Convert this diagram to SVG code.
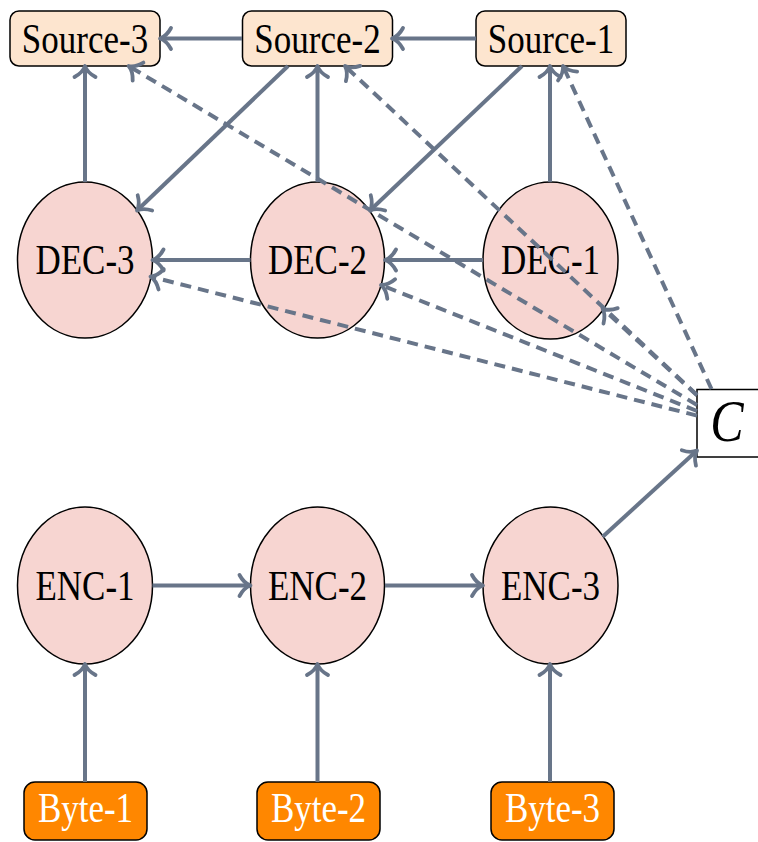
<svg xmlns="http://www.w3.org/2000/svg" width="758" height="842" viewBox="0 0 758 842">
  <defs>
    <marker id="arrow" markerUnits="userSpaceOnUse" markerWidth="24" markerHeight="24" refX="0" refY="0" viewBox="-14 -12 16 24" orient="auto" overflow="visible">
      <path d="M -11,-10.5 C -7.5,-4 -3,-1 0,0 C -3,1 -7.5,4 -11,10.5" fill="none" stroke="#687589" stroke-width="3.8" stroke-linecap="round" stroke-linejoin="round" stroke-dasharray="none"/>
    </marker>
    <style>
      .edge { fill: none; stroke: #687589; stroke-width: 4; marker-end: url(#arrow); }
      .dash { stroke-dasharray: 11 7; }
      .src { fill: #fde5cf; stroke: #000; stroke-width: 1.5; }
      .blob { fill: #f7d5d1; stroke: #000; stroke-width: 1.5; }
      .byte { fill: #ff8700; stroke: #000; stroke-width: 1.5; }
      .ctx { fill: #fff; stroke: #000; stroke-width: 1.5; }
      .lbl { font-family: "Liberation Serif", "DejaVu Serif", serif; font-size: 35px; text-anchor: middle; fill: #000; }
      .lbl.w { fill: #fff; }
      .lbl.c { font-size: 50px; font-style: italic; }
    </style>
  </defs>

  <!-- sources -->
  <g id="source-3">
    <rect class="src" x="10" y="11" width="150" height="55" rx="9"/>
    <text class="lbl" transform="translate(85,52.5) scale(1,1.2)">Source-3</text>
  </g>
  <g id="source-2">
    <rect class="src" x="242.5" y="11" width="150" height="55" rx="9"/>
    <text class="lbl" transform="translate(317.5,52.5) scale(1,1.2)">Source-2</text>
  </g>
  <g id="source-1">
    <rect class="src" x="476" y="11" width="150" height="55" rx="9"/>
    <text class="lbl" transform="translate(551,52.5) scale(1,1.2)">Source-1</text>
  </g>

  <!-- decoders -->
  <g id="dec-3">
    <ellipse class="blob" cx="85" cy="260" rx="67.5" ry="78"/>
    <text class="lbl" transform="translate(85,274) scale(1,1.2)">DEC-3</text>
  </g>
  <g id="dec-2">
    <ellipse class="blob" cx="317.5" cy="260" rx="67" ry="78"/>
    <text class="lbl" transform="translate(317.5,274) scale(1,1.2)">DEC-2</text>
  </g>
  <g id="dec-1">
    <ellipse class="blob" cx="550.5" cy="260.5" rx="67.5" ry="78.5"/>
    <text class="lbl" transform="translate(550.5,274) scale(1,1.2)">DEC-1</text>
  </g>

  <!-- context -->
  <g id="context">
    <rect class="ctx" x="697" y="389.5" width="70" height="67.5"/>
    <text class="lbl c" transform="translate(727,441) scale(1,1.2)">C</text>
  </g>

  <!-- encoders -->
  <g id="enc-1">
    <ellipse class="blob" cx="85" cy="585.5" rx="67.5" ry="78.5"/>
    <text class="lbl" transform="translate(85,600) scale(1,1.2)">ENC-1</text>
  </g>
  <g id="enc-2">
    <ellipse class="blob" cx="317.5" cy="585.5" rx="67" ry="78.5"/>
    <text class="lbl" transform="translate(317.5,600) scale(1,1.2)">ENC-2</text>
  </g>
  <g id="enc-3">
    <ellipse class="blob" cx="550.5" cy="585.5" rx="67.5" ry="78.5"/>
    <text class="lbl" transform="translate(550.5,600) scale(1,1.2)">ENC-3</text>
  </g>

  <!-- bytes -->
  <g id="byte-1">
    <rect class="byte" x="24" y="782" width="123" height="58" rx="11"/>
    <text class="lbl w" transform="translate(85.5,822) scale(1,1.2)">Byte-1</text>
  </g>
  <g id="byte-2">
    <rect class="byte" x="257" y="782" width="123" height="58" rx="11"/>
    <text class="lbl w" transform="translate(318.5,822) scale(1,1.2)">Byte-2</text>
  </g>
  <g id="byte-3">
    <rect class="byte" x="491" y="782" width="123" height="58" rx="11"/>
    <text class="lbl w" transform="translate(552.5,822) scale(1,1.2)">Byte-3</text>
  </g>

  <!-- connectors, drawn over the nodes so crossing dashes stay visible -->
  <g id="edges">
    <!-- source chain -->
    <path class="edge" d="M 242,38.5 L 160,38.5"/>
    <path class="edge" d="M 476,38.5 L 392,38.5"/>
    <!-- decoder to source -->
    <path class="edge" d="M 85,182 L 85,66"/>
    <path class="edge" d="M 317.5,182 L 317.5,66"/>
    <path class="edge" d="M 550,182 L 550,66"/>
    <!-- source to next decoder -->
    <path class="edge" d="M 288,66 L 137,210.5"/>
    <path class="edge" d="M 522,66 L 370,210.5"/>
    <!-- decoder chain -->
    <path class="edge" d="M 250.5,260 L 152.5,260"/>
    <path class="edge" d="M 483,260 L 385,260"/>
    <!-- encoder chain -->
    <path class="edge" d="M 152.5,585.5 L 250.5,585.5"/>
    <path class="edge" d="M 385,585.5 L 483,585.5"/>
    <path class="edge" d="M 602.7,536.8 L 697,450.5"/>
    <!-- bytes to encoders -->
    <path class="edge" d="M 85,782 L 85,664"/>
    <path class="edge" d="M 317.5,782 L 317.5,664"/>
    <path class="edge" d="M 550,782 L 550,664"/>
    <!-- context fan-out -->
    <path class="edge dash" d="M 697,405 L 128.6,66"/>
    <path class="edge dash" d="M 697,395 L 345,66"/>
    <path class="edge dash" d="M 711.5,389 L 563,66"/>
    <path class="edge dash" d="M 697,415.6 L 150.5,276.6"/>
    <path class="edge dash" d="M 697,411 L 381,285"/>
    <path class="edge dash" d="M 697,395.4 L 602.5,308.4"/>
  </g>
</svg>
